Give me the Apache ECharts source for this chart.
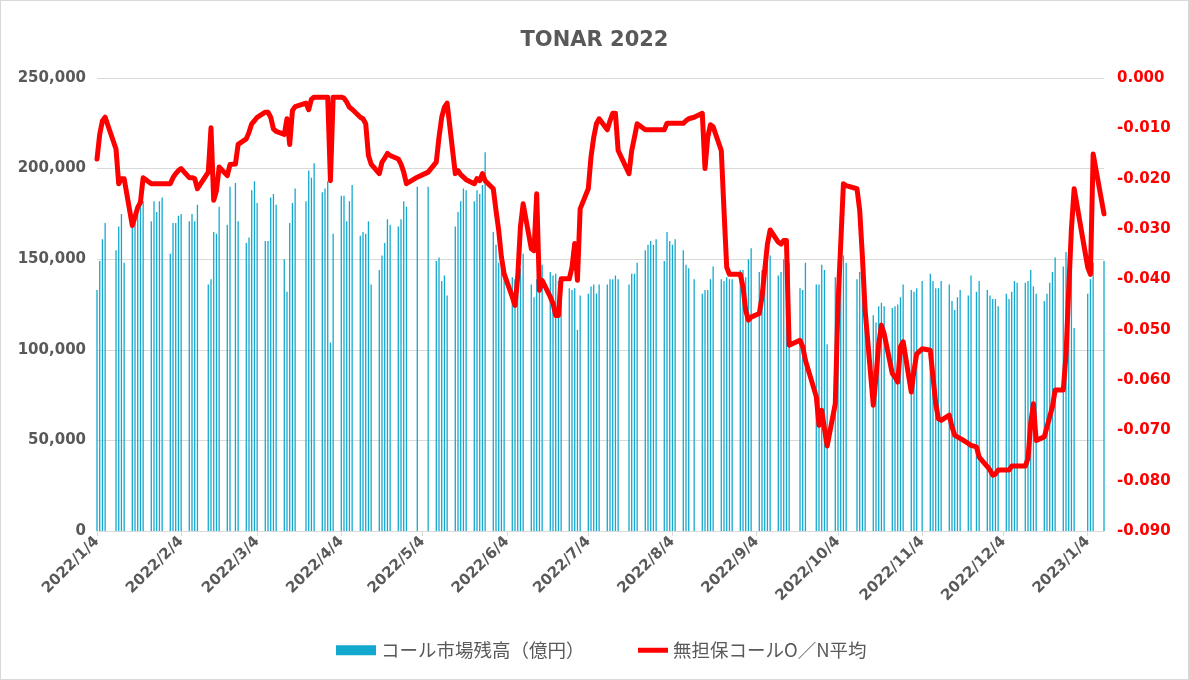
<!DOCTYPE html>
<html><head><meta charset="utf-8">
<script src="https://cdn.jsdelivr.net/npm/echarts@6/dist/echarts.min.js"></script>
<style>
html,body{margin:0;padding:0;background:#fff}
#c{position:absolute;left:0;top:0;width:1189px;height:680px}
#frame{position:absolute;left:0;top:0;width:1189px;height:680px;box-sizing:border-box;border:1px solid #d9d9d9;pointer-events:none}
</style>
</head><body><div id="c"></div><div id="frame"></div>
<script>
// Business days (categories)
const dates = [
'2022-01-04','2022-01-05','2022-01-06','2022-01-07','2022-01-11','2022-01-12','2022-01-13','2022-01-14','2022-01-17','2022-01-18','2022-01-19','2022-01-20','2022-01-21','2022-01-24','2022-01-25','2022-01-26','2022-01-27','2022-01-28','2022-01-31',
'2022-02-01','2022-02-02','2022-02-03','2022-02-04','2022-02-07','2022-02-08','2022-02-09','2022-02-10','2022-02-14','2022-02-15','2022-02-16','2022-02-17','2022-02-18','2022-02-21','2022-02-22','2022-02-24','2022-02-25','2022-02-28',
'2022-03-01','2022-03-02','2022-03-03','2022-03-04','2022-03-07','2022-03-08','2022-03-09','2022-03-10','2022-03-11','2022-03-14','2022-03-15','2022-03-16','2022-03-17','2022-03-18','2022-03-22','2022-03-23','2022-03-24','2022-03-25','2022-03-28','2022-03-29','2022-03-30','2022-03-31',
'2022-04-01','2022-04-04','2022-04-05','2022-04-06','2022-04-07','2022-04-08','2022-04-11','2022-04-12','2022-04-13','2022-04-14','2022-04-15','2022-04-18','2022-04-19','2022-04-20','2022-04-21','2022-04-22','2022-04-25','2022-04-26','2022-04-27','2022-04-28',
'2022-05-02','2022-05-06','2022-05-09','2022-05-10','2022-05-11','2022-05-12','2022-05-13','2022-05-16','2022-05-17','2022-05-18','2022-05-19','2022-05-20','2022-05-23','2022-05-24','2022-05-25','2022-05-26','2022-05-27','2022-05-30','2022-05-31',
'2022-06-01','2022-06-02','2022-06-03','2022-06-06','2022-06-07','2022-06-08','2022-06-09','2022-06-10','2022-06-13','2022-06-14','2022-06-15','2022-06-16','2022-06-17','2022-06-20','2022-06-21','2022-06-22','2022-06-23','2022-06-24','2022-06-27','2022-06-28','2022-06-29','2022-06-30',
'2022-07-01','2022-07-04','2022-07-05','2022-07-06','2022-07-07','2022-07-08','2022-07-11','2022-07-12','2022-07-13','2022-07-14','2022-07-15','2022-07-19','2022-07-20','2022-07-21','2022-07-22','2022-07-25','2022-07-26','2022-07-27','2022-07-28','2022-07-29',
'2022-08-01','2022-08-02','2022-08-03','2022-08-04','2022-08-05','2022-08-08','2022-08-09','2022-08-10','2022-08-12','2022-08-15','2022-08-16','2022-08-17','2022-08-18','2022-08-19','2022-08-22','2022-08-23','2022-08-24','2022-08-25','2022-08-26','2022-08-29','2022-08-30','2022-08-31',
'2022-09-01','2022-09-02','2022-09-05','2022-09-06','2022-09-07','2022-09-08','2022-09-09','2022-09-12','2022-09-13','2022-09-14','2022-09-15','2022-09-16','2022-09-20','2022-09-21','2022-09-22','2022-09-26','2022-09-27','2022-09-28','2022-09-29','2022-09-30',
'2022-10-03','2022-10-04','2022-10-05','2022-10-06','2022-10-07','2022-10-11','2022-10-12','2022-10-13','2022-10-14','2022-10-17','2022-10-18','2022-10-19','2022-10-20','2022-10-21','2022-10-24','2022-10-25','2022-10-26','2022-10-27','2022-10-28','2022-10-31',
'2022-11-01','2022-11-02','2022-11-04','2022-11-07','2022-11-08','2022-11-09','2022-11-10','2022-11-11','2022-11-14','2022-11-15','2022-11-16','2022-11-17','2022-11-18','2022-11-21','2022-11-22','2022-11-24','2022-11-25','2022-11-28','2022-11-29','2022-11-30',
'2022-12-01','2022-12-02','2022-12-05','2022-12-06','2022-12-07','2022-12-08','2022-12-09','2022-12-12','2022-12-13','2022-12-14','2022-12-15','2022-12-16','2022-12-19','2022-12-20','2022-12-21','2022-12-22','2022-12-23','2022-12-26','2022-12-27','2022-12-28','2022-12-29','2022-12-30',
'2023-01-04','2023-01-05','2023-01-06','2023-01-10'
];
// コール市場残高（億円）
const balance = [
133000,149000,161000,170000,155000,168000,175000,148000,169000,170000,175000,180000,182000,171000,182000,176000,182000,184000,153000,
170000,170000,174000,175000,171000,175000,171000,180000,136000,139000,165000,164000,179000,169000,190000,192000,171000,159000,
162000,188000,193000,181000,160000,160000,184000,186000,180000,150000,132000,170000,181000,189000,182000,199000,195000,203000,187000,189000,193000,104000,
164000,185000,185000,171000,182000,191000,163000,165000,164000,171000,136000,144000,152000,159000,172000,169000,168000,172000,182000,179000,
190000,190000,149000,151000,138000,141000,130000,168000,176000,182000,189000,188000,182000,188000,186000,191000,209000,165000,158000,
148000,146000,144000,140000,139000,141000,145000,153000,136000,129000,139000,137000,147000,143000,141000,142000,138000,137000,134000,133000,134000,111000,
130000,131000,135000,136000,131000,136000,136000,139000,139000,141000,139000,136000,142000,142000,148000,155000,158000,160000,158000,161000,
149000,165000,160000,158000,161000,155000,147000,145000,139000,131000,133000,133000,139000,146000,139000,138000,140000,139000,139000,144000,144000,140000,
150000,156000,143000,144000,142000,149000,152000,141000,143000,150000,152000,148000,134000,133000,148000,136000,136000,147000,144000,103000,
140000,133000,150000,152000,148000,139000,143000,145000,138000,119000,115000,124000,126000,124000,123000,124000,125000,129000,136000,133000,
132000,134000,138000,142000,138000,134000,134000,138000,136000,127000,122000,129000,133000,130000,141000,132000,138000,133000,130000,128000,
128000,124000,131000,128000,132000,138000,137000,137000,138000,144000,135000,131000,127000,131000,137000,143000,151000,146000,154000,153000,148000,112000,
131000,139000,148000,149000
];
// 無担保コールO／N平均
const rate = [
-0.0161,-0.0112,-0.0085,-0.0078,-0.0141,-0.0210,-0.0200,-0.0200,-0.0293,-0.0276,-0.0257,-0.0247,-0.0198,-0.0210,-0.0210,-0.0210,-0.0210,-0.0210,-0.0210,
-0.0198,-0.0190,-0.0184,-0.0180,-0.0198,-0.0198,-0.0200,-0.0220,-0.0187,-0.0099,-0.0243,-0.0224,-0.0177,-0.0194,-0.0172,-0.0171,-0.0132,-0.0121,
-0.0108,-0.0091,-0.0085,-0.0078,-0.0068,-0.0068,-0.0078,-0.0101,-0.0106,-0.0112,-0.0081,-0.0132,-0.0065,-0.0057,-0.0050,-0.0063,-0.0042,-0.0038,-0.0038,-0.0038,-0.0038,-0.0204,
-0.0038,-0.0038,-0.0040,-0.0048,-0.0058,-0.0062,-0.0078,-0.0081,-0.0091,-0.0154,-0.0171,-0.0190,-0.0167,-0.0159,-0.0150,-0.0154,-0.0161,-0.0171,-0.0187,-0.0210,
-0.0197,-0.0187,-0.0167,-0.0118,-0.0078,-0.0058,-0.0050,-0.0190,-0.0184,-0.0192,-0.0197,-0.0202,-0.0210,-0.0200,-0.0204,-0.0190,-0.0204,-0.0220,-0.0263,
-0.0303,-0.0356,-0.0389,-0.0435,-0.0452,-0.0395,-0.0296,-0.0250,-0.0339,-0.0343,-0.0230,-0.0422,-0.0402,-0.0435,-0.0448,-0.0472,-0.0472,-0.0399,-0.0399,-0.0376,-0.0329,-0.0402,
-0.0260,-0.0220,-0.0157,-0.0118,-0.0091,-0.0081,-0.0103,-0.0085,-0.0070,-0.0070,-0.0144,-0.0190,-0.0144,-0.0118,-0.0091,-0.0103,-0.0103,-0.0103,-0.0103,-0.0103,
-0.0103,-0.0090,-0.0090,-0.0090,-0.0090,-0.0090,-0.0085,-0.0081,-0.0078,-0.0070,-0.0180,-0.0118,-0.0093,-0.0097,-0.0144,-0.0263,-0.0376,-0.0390,-0.0390,-0.0390,-0.0415,-0.0462,
-0.0481,-0.0475,-0.0468,-0.0435,-0.0382,-0.0330,-0.0302,-0.0326,-0.0330,-0.0323,-0.0323,-0.0531,-0.0521,-0.0534,-0.0561,-0.0633,-0.0690,-0.0660,-0.0696,-0.0731,
-0.0647,-0.0448,-0.0330,-0.0210,-0.0214,-0.0220,-0.0263,-0.0356,-0.0462,-0.0650,-0.0594,-0.0528,-0.0491,-0.0508,-0.0587,-0.0594,-0.0604,-0.0534,-0.0524,-0.0624,
-0.0581,-0.0548,-0.0538,-0.0541,-0.0594,-0.0647,-0.0677,-0.0680,-0.0670,-0.0693,-0.0710,-0.0713,-0.0716,-0.0726,-0.0730,-0.0733,-0.0753,-0.0772,-0.0779,-0.0789,
-0.0787,-0.0779,-0.0779,-0.0779,-0.0771,-0.0771,-0.0771,-0.0771,-0.0756,-0.0686,-0.0647,-0.0720,-0.0713,-0.0693,-0.0673,-0.0653,-0.0620,-0.0620,-0.0550,-0.0420,-0.0300,-0.0220,
-0.0376,-0.0390,-0.0151,-0.0270
];
const tickLabels = ['2022/1/4','2022/2/4','2022/3/4','2022/4/4','2022/5/4','2022/6/4','2022/7/4','2022/8/4','2022/9/4','2022/10/4','2022/11/4','2022/12/4','2023/1/4'];
const seriesNames = ['コール市場残高（億円）','無担保コールO／N平均'];

const toTs = s => { const p = s.split(/[\/-]/).map(Number); return new Date(p[0], p[1]-1, p[2]).getTime(); };
const tickVals = tickLabels.map(toTs);
const xs = dates.map(toTs);
const fmtDate = v => { const d = new Date(v); return d.getFullYear()+'/'+(d.getMonth()+1)+'/'+d.getDate(); };
const LATIN = '"DejaVu Sans","Noto Sans CJK JP",sans-serif';
const CJK = '"Noto Sans CJK JP","DejaVu Sans",sans-serif';
const GREY = '#595959';
const AX = 15;

const chart = echarts.init(document.getElementById('c'), null, {renderer:'canvas'});
chart.setOption({
  animation: false,
  textStyle: {fontFamily: LATIN},
  title: {text: 'TONAR 2022', left: 'center', top: 25,
    textStyle: {fontSize: 21, fontWeight: 'bold', color: GREY, fontFamily: LATIN}},
  legend: [
    {data: [{name: seriesNames[0], icon: 'rect'}], left: 331, top: 636, itemWidth: 40, itemHeight: 10, itemGap: 6,
      textStyle: {fontSize: 18.5, color: GREY, fontFamily: CJK}},
    {data: [{name: seriesNames[1], icon: 'rect', itemStyle: {color: '#ff0000'}}], left: 633, top: 636, itemWidth: 30, itemHeight: 5,
      textStyle: {fontSize: 18.5, color: GREY, fontFamily: CJK}}
  ],
  grid: {left: 97, right: 85, top: 78, bottom: 149, containLabel: false},
  xAxis: {
    type: 'value', min: toTs('2022-01-04'), max: toTs('2023-01-10'),
    axisLine: {lineStyle: {color: '#d9d9d9', width: 1}},
    axisTick: {show: true, customValues: tickVals, length: 5, lineStyle: {color: '#d9d9d9'}},
    axisLabel: {customValues: tickVals, rotate: 45, formatter: fmtDate, margin: 8,
      color: GREY, fontWeight: 'bold', fontSize: AX, fontFamily: LATIN},
    splitLine: {show: false}
  },
  yAxis: [
    {type: 'value', min: 0, max: 250000, interval: 50000, position: 'left',
      axisLine: {show: false}, axisTick: {show: false},
      axisLabel: {formatter: v => v.toLocaleString('en-US'), color: GREY, fontWeight: 'bold', fontSize: AX, margin: 11, fontFamily: LATIN},
      splitLine: {lineStyle: {color: '#d9d9d9', width: 1}}},
    {type: 'value', min: -0.09, max: 0, interval: 0.01, position: 'right',
      axisLine: {show: false}, axisTick: {show: false},
      axisLabel: {formatter: v => (Math.abs(v) < 1e-9 ? 0 : v).toFixed(3), color: '#ff0000', fontWeight: 'bold', fontSize: AX, margin: 13, fontFamily: LATIN},
      splitLine: {show: false}}
  ],
  series: [
    {name: seriesNames[0], type: 'bar', yAxisIndex: 0, barWidth: 1.3,
      itemStyle: {color: '#13a9cf'},
      data: xs.map((x, i) => [x, balance[i]])},
    {name: seriesNames[1], type: 'line', yAxisIndex: 1, symbol: 'none', showSymbol: false, z: 5,
      lineStyle: {color: '#ff0000', width: 5, join: 'round', cap: 'round'},
      itemStyle: {color: '#ff0000'},
      data: xs.map((x, i) => [x, rate[i]])}
  ]
});
</script>
</body></html>
